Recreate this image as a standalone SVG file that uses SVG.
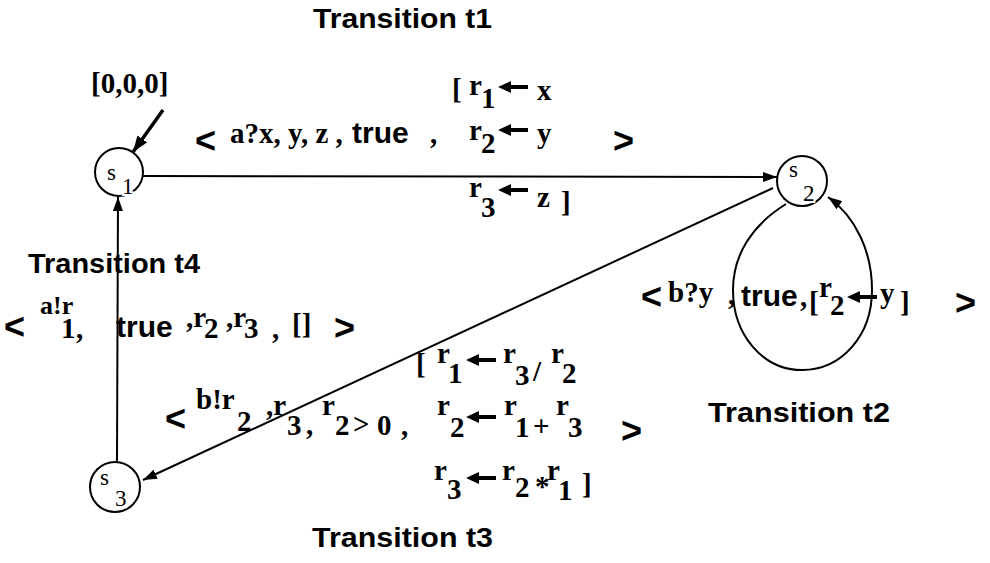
<svg xmlns="http://www.w3.org/2000/svg" width="990" height="563" viewBox="0 0 990 563">
<style>
.m{font-family:"Liberation Serif","Times New Roman",serif;font-weight:bold;font-size:29px;fill:#000}
.h{font-family:"Liberation Sans",Arial,sans-serif;font-weight:bold;font-size:30px}
.c{font-family:"Liberation Sans",Arial,sans-serif;font-weight:bold;font-size:36px}
.t{font-family:"Liberation Sans",Arial,sans-serif;font-weight:bold;font-size:28px;fill:#000}
.s{font-family:"Liberation Serif","Times New Roman",serif;font-size:23px;fill:#000}
.sub{stroke:#fff;stroke-width:4px;paint-order:stroke}
.node{fill:#fff;stroke:#000;stroke-width:2}
.edge{fill:none;stroke:#000;stroke-width:2}
</style>
<defs>
<marker id="ah" viewBox="0 0 14 10" markerWidth="14" markerHeight="10" refX="14" refY="5" orient="auto" markerUnits="userSpaceOnUse">
<path d="M0,0 L14,5 L0,10 Z" fill="#000"/>
</marker>
<marker id="ah2" viewBox="0 0 16 12" markerWidth="16" markerHeight="12" refX="16" refY="6" orient="auto" markerUnits="userSpaceOnUse">
<path d="M0,0 L16,6 L0,12 Z" fill="#000"/>
</marker>
<path id="la" d="M0,0 L13,-6 L13,-2 L30,-2 L30,2 L13,2 L13,6 Z" fill="#000"/>
</defs>
<rect width="990" height="563" fill="#fff"/>

<g id="connectors">
<line class="edge" x1="143" y1="176" x2="777" y2="177" marker-end="url(#ah)"/>
<line class="edge" x1="773" y1="188" x2="143" y2="480" marker-end="url(#ah)"/>
<line class="edge" x1="117" y1="461" x2="118" y2="197" marker-end="url(#ah)"/>
<path class="edge" d="M786,204 C752,225 733,255 733,290 C733,335 763,370 802,370 C842,370 872,335 872,290 C872,252 856,217 828,197" marker-end="url(#ah)"/>
<line x1="163" y1="110" x2="133" y2="152" stroke="#000" stroke-width="3.5" marker-end="url(#ah2)"/>
</g>

<g id="s1">
<circle class="node" cx="119" cy="172" r="24"/>
<text class="s"><tspan x="107" y="180">s</tspan><tspan class="sub" x="122" y="194">1</tspan></text>
</g>
<g id="s2">
<circle class="node" cx="802" cy="181" r="25"/>
<text class="s"><tspan x="789" y="177">s</tspan><tspan class="sub" x="803" y="201">2</tspan></text>
</g>
<g id="s3">
<circle class="node" cx="115" cy="487" r="25"/>
<text class="s"><tspan x="100" y="485">s</tspan><tspan class="sub" x="115" y="506">3</tspan></text>
</g>

<g id="init">
<text class="m" x="91" y="93">[0,0,0]</text>
</g>

<g id="t1">
<text class="t" x="313" y="28" textLength="179" lengthAdjust="spacingAndGlyphs">Transition t1</text>
<text class="m"><tspan class="c" x="195" y="153">&lt;</tspan><tspan x="230" y="143">a?x, y, z ,</tspan><tspan class="h" x="352" y="143">true</tspan><tspan x="430" y="143">,</tspan><tspan x="452" y="99">[</tspan><tspan x="469" y="95">r</tspan><tspan x="481" y="108">1</tspan><tspan x="537" y="100">x</tspan><tspan x="469" y="140">r</tspan><tspan x="481" y="153">2</tspan><tspan x="537" y="143">y</tspan><tspan class="c" x="613" y="153">&gt;</tspan><tspan x="469" y="197">r</tspan><tspan x="481" y="217">3</tspan><tspan x="537" y="207">z</tspan><tspan x="561" y="212">]</tspan></text>
<use href="#la" x="498" y="87"/>
<use href="#la" x="498" y="130"/>
<use href="#la" x="498" y="190"/>
</g>

<g id="t4">
<text class="t" x="28" y="273" textLength="172" lengthAdjust="spacingAndGlyphs">Transition t4</text>
<text class="m"><tspan class="c" x="4" y="339">&lt;</tspan><tspan x="40" y="314" style="font-size:26px">a!r</tspan><tspan x="61" y="338">1</tspan><tspan x="76" y="338">,</tspan><tspan class="h" x="116" y="337">true</tspan><tspan x="186" y="327">,r</tspan><tspan x="204" y="338">2</tspan><tspan x="226" y="327">,r</tspan><tspan x="244" y="338">3</tspan><tspan x="272" y="338">,</tspan><tspan x="292" y="334">[]</tspan><tspan class="c" x="334" y="340">&gt;</tspan></text>
</g>

<g id="t2">
<text class="t" x="708" y="422" textLength="182" lengthAdjust="spacingAndGlyphs">Transition t2</text>
<text class="m"><tspan class="c" x="641" y="309">&lt;</tspan><tspan x="668" y="302">b?y</tspan><tspan x="728" y="304">,</tspan><tspan class="h" x="741" y="306">true</tspan><tspan x="800" y="306">,</tspan><tspan x="809" y="312">[</tspan><tspan x="819" y="297">r</tspan><tspan x="830" y="315">2</tspan><tspan x="880" y="303">y</tspan><tspan x="900" y="312">]</tspan><tspan class="c" x="955" y="315">&gt;</tspan></text>
<use href="#la" x="847" y="297"/>
</g>

<g id="t3">
<text class="t" x="312" y="547" textLength="181" lengthAdjust="spacingAndGlyphs">Transition t3</text>
<text class="m"><tspan x="416" y="374">[</tspan><tspan x="437" y="363">r</tspan><tspan x="448" y="383">1</tspan><tspan x="503" y="363">r</tspan><tspan x="515" y="385">3</tspan><tspan x="533" y="381">/</tspan><tspan x="551" y="363">r</tspan><tspan x="562" y="383">2</tspan><tspan class="c" x="165" y="431">&lt;</tspan><tspan x="196" y="409">b!r</tspan><tspan x="237" y="431">2</tspan><tspan x="266" y="415">,r</tspan><tspan x="287" y="435">3</tspan><tspan x="306" y="434">,</tspan><tspan x="322" y="415">r</tspan><tspan x="335" y="435">2</tspan><tspan x="353" y="434">&gt;</tspan><tspan x="377" y="435">0</tspan><tspan x="401" y="435">,</tspan><tspan x="437" y="415">r</tspan><tspan x="450" y="437">2</tspan><tspan x="504" y="415">r</tspan><tspan x="515" y="437">1</tspan><tspan x="533" y="436">+</tspan><tspan x="556" y="415">r</tspan><tspan x="568" y="437">3</tspan><tspan class="c" x="621" y="443">&gt;</tspan><tspan x="434" y="480">r</tspan><tspan x="447" y="499">3</tspan><tspan x="502" y="480">r</tspan><tspan x="515" y="497">2</tspan><tspan x="535" y="496">*</tspan><tspan x="547" y="480">r</tspan><tspan x="558" y="500">1</tspan><tspan x="582" y="494">]</tspan></text>
<use href="#la" x="466" y="360"/>
<use href="#la" x="466" y="417"/>
<use href="#la" x="466" y="478"/>
</g>
</svg>
